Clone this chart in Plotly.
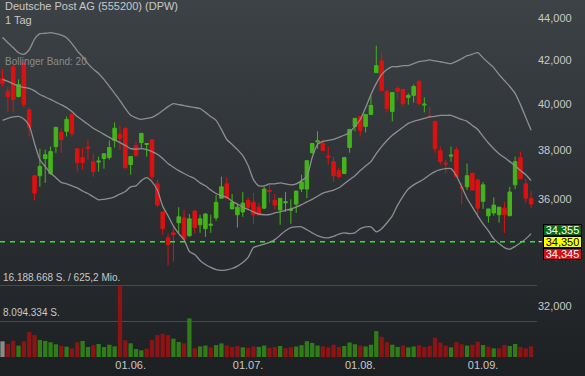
import base64
import math
import pandas as pd
import plotly.graph_objects as go

# ---------------- data ----------------
dates = [d.strftime("%Y-%m-%d") for d in pd.bdate_range("2022-04-28", periods=100)]

open_ = [41.14, 40.56, 41.68, 40.33, 41.86, 39.75, 36.95, 36.95, 37.66, 37.04,
         38.16, 38.76, 38.81, 39.54, 38.07, 37.70, 38.14, 37.53, 37.51, 37.66,
         37.70, 38.42, 38.68, 38.94, 37.41, 38.21, 38.33, 38.25, 38.46, 36.62,
         35.50, 34.50, 34.69, 35.08, 35.27, 34.58, 35.54, 35.00, 34.85, 34.98,
         35.27, 36.04, 36.62, 35.62, 35.39, 35.50, 35.96, 35.88, 35.69, 35.65,
         36.35, 35.96, 35.58, 35.86, 35.56, 35.81, 36.41, 36.41, 37.90, 38.36,
         38.29, 37.76, 37.53, 37.16, 37.04, 38.12, 39.02, 39.45, 39.02, 39.54,
         41.41, 41.95, 40.56, 39.67, 40.69, 40.65, 40.29, 40.38, 41.01, 39.95,
         39.47, 39.24, 37.99, 37.47, 37.76, 38.03, 36.48, 36.50, 37.04, 36.79,
         35.92, 35.35, 35.46, 35.39, 35.65, 35.35, 36.58, 37.70, 36.62, 36.04]
high_ = [41.59, 40.74, 41.77, 41.10, 41.91, 39.84, 36.95, 38.07, 38.03, 38.16,
         38.98, 38.94, 39.45, 39.67, 38.07, 38.12, 38.46, 37.86, 37.74, 37.86,
         38.42, 39.19, 39.06, 38.98, 37.74, 38.38, 38.72, 38.29, 38.46, 36.79,
         35.50, 34.66, 34.92, 35.69, 35.58, 35.42, 35.54, 35.39, 35.46, 35.39,
         36.17, 36.91, 36.87, 36.21, 35.81, 36.29, 36.08, 36.25, 35.85, 36.50,
         36.58, 36.21, 36.04, 36.29, 36.00, 36.33, 36.99, 37.57, 38.29, 38.81,
         38.46, 38.16, 37.74, 37.28, 37.70, 38.89, 39.37, 39.45, 39.54, 40.38,
         42.66, 42.38, 40.65, 40.51, 40.78, 40.65, 40.47, 40.87, 41.10, 40.29,
         39.88, 39.24, 38.16, 37.61, 38.16, 38.16, 36.66, 37.45, 37.08, 36.79,
         36.70, 35.62, 36.08, 35.69, 35.88, 36.50, 37.74, 37.95, 36.83, 36.33]
low_ = [40.78, 39.67, 39.63, 40.29, 39.84, 38.59, 35.96, 36.50, 36.66, 36.99,
        37.90, 37.90, 38.59, 38.59, 37.12, 37.20, 37.61, 36.91, 37.12, 37.24,
        37.61, 38.12, 38.03, 37.24, 36.99, 37.74, 38.07, 37.74, 36.75, 35.69,
        34.62, 33.46, 33.61, 34.69, 34.31, 34.54, 34.66, 34.69, 34.54, 34.69,
        35.16, 36.04, 36.04, 35.62, 34.89, 35.31, 35.62, 35.04, 35.35, 35.62,
        35.85, 35.58, 35.00, 35.50, 35.04, 35.46, 36.29, 36.04, 37.86, 38.07,
        37.99, 37.41, 36.70, 36.83, 37.04, 37.90, 38.81, 38.59, 38.76, 39.54,
        41.41, 40.60, 39.63, 39.24, 40.20, 39.88, 39.97, 40.06, 39.93, 39.63,
        39.37, 37.90, 37.41, 37.04, 37.53, 36.91, 35.81, 36.37, 36.37, 35.31,
        35.62, 35.08, 35.35, 35.08, 34.69, 35.35, 36.41, 36.83, 35.85, 35.65]
close_ = [40.92, 40.33, 40.20, 40.87, 39.97, 38.98, 36.25, 37.33, 37.82, 37.95,
          38.98, 38.46, 39.32, 38.72, 37.49, 37.49, 38.10, 37.12, 37.55, 37.86,
          38.12, 38.94, 38.51, 37.28, 37.74, 37.78, 38.72, 38.29, 36.91, 35.77,
          34.85, 34.24, 34.62, 35.31, 34.46, 35.23, 34.89, 35.23, 35.42, 35.02,
          35.88, 36.50, 36.04, 35.88, 35.69, 35.85, 35.69, 35.39, 35.39, 36.41,
          36.31, 35.77, 36.04, 35.90, 35.60, 36.33, 36.70, 37.57, 38.29, 38.40,
          37.99, 37.72, 36.95, 36.91, 37.70, 38.89, 39.37, 38.85, 39.54, 39.93,
          41.73, 40.60, 39.80, 40.51, 40.56, 40.02, 40.38, 40.78, 40.02, 39.99,
          39.43, 38.07, 37.53, 37.43, 37.80, 36.91, 36.44, 36.95, 36.37, 35.65,
          36.58, 35.62, 35.77, 35.69, 35.39, 36.29, 37.53, 36.83, 36.04, 35.81]

bb_upper = [43.06, 42.80, 42.57, 42.33, 42.26, 42.47, 42.97, 43.23, 43.25, 43.28,
            43.23, 43.16, 43.04, 42.76, 42.42, 42.14, 41.82, 41.57, 41.37, 41.10,
            40.78, 40.47, 40.15, 39.80, 39.50, 39.39, 39.32, 39.37, 39.41, 39.54,
            39.71, 39.88, 40.01, 39.97, 39.93, 39.88, 39.84, 39.80, 39.63, 39.45,
            39.28, 38.89, 38.46, 38.25, 38.03, 37.78, 37.37, 36.79, 36.54, 36.54,
            36.62, 36.62, 36.66, 36.62, 36.58, 36.62, 36.75, 36.91, 37.70, 38.25,
            38.38, 38.42, 38.46, 38.55, 38.64, 38.76, 39.02, 39.32, 39.84, 40.42,
            40.92, 41.32, 41.55, 41.68, 41.68, 41.73, 41.73, 41.82, 41.91, 41.95,
            42.00, 41.95, 41.91, 41.86, 41.82, 41.93, 42.05, 42.19, 42.26, 42.33,
            42.09, 41.86, 41.64, 41.32, 41.05, 40.78, 40.47, 39.97, 39.41, 38.85]
bb_middle = [41.10, 41.01, 40.90, 40.80, 40.74, 40.69, 40.58, 40.42, 40.31, 40.20,
             40.08, 39.97, 39.84, 39.67, 39.45, 39.28, 39.11, 38.94, 38.81, 38.68,
             38.55, 38.44, 38.33, 38.21, 38.07, 38.05, 38.07, 38.03, 37.95, 37.84,
             37.66, 37.45, 37.30, 37.16, 37.04, 36.93, 36.83, 36.66, 36.54, 36.37,
             36.23, 36.14, 36.08, 35.92, 35.81, 35.69, 35.60, 35.50, 35.42, 35.39,
             35.40, 35.46, 35.50, 35.56, 35.62, 35.69, 35.79, 35.90, 36.00, 36.12,
             36.25, 36.31, 36.37, 36.46, 36.62, 36.79, 36.95, 37.16, 37.35, 37.53,
             37.86, 38.16, 38.42, 38.64, 38.81, 38.98, 39.15, 39.24, 39.30, 39.37,
             39.43, 39.45, 39.50, 39.50, 39.50, 39.41, 39.32, 39.24, 39.06, 38.89,
             38.59, 38.31, 38.07, 37.86, 37.70, 37.53, 37.37, 37.16, 36.99, 36.75]
bb_lower = [39.28, 39.37, 39.43, 39.45, 39.34, 39.06, 38.29, 37.61, 37.33, 37.06,
            36.87, 36.68, 36.62, 36.54, 36.46, 36.33, 36.23, 36.10, 35.98, 36.00,
            36.04, 36.10, 36.21, 36.31, 36.50, 36.54, 36.75, 36.87, 36.70, 36.37,
            35.73, 35.35, 34.96, 34.66, 34.43, 33.98, 33.87, 33.65, 33.50, 33.39,
            33.31, 33.28, 33.30, 33.35, 33.44, 33.57, 33.76, 34.13, 34.20, 34.26,
            34.33, 34.43, 34.60, 34.77, 34.89, 34.92, 34.92, 34.81, 34.69, 34.58,
            34.52, 34.50, 34.56, 34.64, 34.69, 34.66, 34.69, 34.85, 34.92, 34.92,
            34.73, 34.85, 35.08, 35.35, 35.77, 36.12, 36.41, 36.58, 36.70, 36.83,
            36.99, 37.12, 37.20, 37.24, 37.24, 36.95, 36.50, 36.04, 35.69, 35.35,
            35.04, 34.77, 34.46, 34.28, 34.13, 34.07, 34.17, 34.31, 34.46, 34.66]

# millions of shares
volume = [3.57, 2.96, 3.70, 2.58, 3.57, 5.70, 5.00, 3.87, 3.65, 3.35,
          2.90, 2.50, 2.35, 1.98, 3.35, 3.65, 2.28, 2.66, 2.96, 2.28,
          2.80, 2.43, 16.19, 3.80, 3.12, 1.82, 1.52, 1.90, 3.87, 5.00,
          5.30, 5.00, 4.17, 3.42, 3.12, 8.80, 1.98, 2.40, 2.60, 2.20,
          2.70, 3.10, 2.60, 2.30, 2.50, 2.20, 2.10, 2.40, 2.30, 2.60,
          2.10, 2.30, 2.50, 2.00, 2.20, 2.40, 2.70, 3.60, 3.20, 2.60,
          2.40, 2.20, 2.80, 2.30, 2.50, 3.30, 2.90, 2.60, 2.40, 2.80,
          5.90, 4.60, 3.40, 2.80, 2.30, 2.60, 2.20, 2.40, 2.70, 2.30,
          2.50, 4.40, 3.30, 2.60, 2.20, 3.40, 2.90, 2.60, 2.80, 3.50,
          2.74, 2.36, 1.98, 1.98, 2.74, 2.51, 2.96, 2.28, 1.98, 2.43]

vol_max = 16188668
vol_half = 8094334
turnover_text = "625,2 Mio."
bid_price, last_price, ask_price = 34.355, 34.350, 34.345

price_ticks = [32, 36, 38, 40, 42, 44]
month_ticks = ["2022-06-01", "2022-07-01", "2022-08-01", "2022-09-01"]
month_labels = ["01.06.", "01.07.", "01.08.", "01.09."]

# ---------------- style ----------------
W, H = 585, 376
ML, MR, MT, MB = 0, 48, 0, 19
GREEN = "#43b51b"
RED = "#dd1111"
VGREEN = "#2f7d16"
VRED = "#8c1414"
VGREY = "#8a8a8a"
BAND = "#8e8e8e"
TXT = "#c8c8c8"

vol_colors = []
for i, c in enumerate(close_):
    if i == 0:
        vol_colors.append(VGREY)
    else:
        vol_colors.append(VGREEN if c >= close_[i - 1] else VRED)

fig = go.Figure()

fig.add_trace(go.Bar(x=dates, y=[v * 1e6 for v in volume], marker_color=vol_colors,
                     marker_line_width=0, width=0.8, yaxis="y2", hoverinfo="skip"))

for arr in (bb_upper, bb_middle, bb_lower):
    fig.add_trace(go.Scatter(x=dates, y=arr, mode="lines",
                             line=dict(color=BAND, width=1.3, shape="spline", smoothing=0.6),
                             hoverinfo="skip"))

fig.add_trace(go.Candlestick(
    x=dates, open=open_, high=high_, low=low_, close=close_,
    increasing=dict(line=dict(color=GREEN, width=1), fillcolor=GREEN),
    decreasing=dict(line=dict(color=RED, width=1), fillcolor=RED),
    whiskerwidth=0, hoverinfo="skip"))

pw = W - ML - MR
ph = H - MT - MB
svg = (f'<svg xmlns="http://www.w3.org/2000/svg" width="{W}" height="{H}">'
       '<defs><linearGradient id="g" x1="0" y1="0" x2="0" y2="1">'
       '<stop offset="0" stop-color="#3d4246"/><stop offset="1" stop-color="#1d2023"/>'
       '</linearGradient></defs>'
       f'<rect width="{W}" height="{H}" fill="url(#g)"/></svg>')
src = "data:image/svg+xml;base64," + base64.b64encode(svg.encode()).decode()

fig.update_layout(
    width=W, height=H,
    margin=dict(l=ML, r=MR, t=MT, b=MB),
    paper_bgcolor="#2c3034", plot_bgcolor="rgba(0,0,0,0)",
    separators=",.",
    showlegend=False,
    boxgap=0.06,
    font=dict(family="Liberation Sans, Arial, sans-serif", size=11, color=TXT),
    images=[dict(source=src, xref="paper", yref="paper", x=0, y=1,
                 sizex=W / pw, sizey=H / ph, sizing="stretch", layer="below")],
    xaxis=dict(type="category", range=[-0.47, 100.1], rangeslider=dict(visible=False),
               showgrid=False, zeroline=False, showline=False, ticks="",
               tickmode="array", tickvals=month_ticks, ticktext=month_labels,
               tickfont=dict(size=11, color=TXT)),
    yaxis=dict(type="log", side="right", range=[1.480625, 1.651947],
               tickmode="array", tickvals=price_ticks, tickformat=".3f",
               showgrid=False, zeroline=False, showline=False, ticks="",
               tickfont=dict(size=11, color=TXT)),
    yaxis2=dict(overlaying="y", range=[0, 81.3e6], showticklabels=False,
                tickmode="array", tickvals=[vol_half, vol_max],
                showgrid=True, gridcolor="#464a4e", gridwidth=1, zeroline=False),
)

fig.add_shape(type="line", xref="paper", yref="y", x0=0, x1=0.997,
              y0=last_price, y1=last_price,
              line=dict(color="#22ee22", width=1.3, dash="5px,5px"))
fig.add_shape(type="line", xref="paper", yref="y", x0=1.003, x1=1.009,
              y0=last_price, y1=last_price,
              line=dict(color="white", width=1))

fig.add_annotation(xref="paper", yref="paper", x=0.005, y=1, yshift=2,
                   xanchor="left", yanchor="top", showarrow=False, align="left",
                   text="Deutsche Post AG (555200) (DPW)<br>1 Tag",
                   font=dict(size=11, color=TXT))
fig.add_annotation(xref="paper", yref="paper", x=0.005, y=1 - 61 / ph,
                   xanchor="left", yanchor="middle", showarrow=False,
                   text="Bollinger Band: 20", font=dict(size=10, color="#8a8a8a"))


def de(n):
    return f"{n:,}".replace(",", ".")


fig.add_annotation(xref="paper", yref="y2", x=0.002, y=vol_max, yshift=1,
                   xanchor="left", yanchor="bottom", showarrow=False,
                   text=f"{de(vol_max)} S. / {turnover_text}",
                   font=dict(size=10, color=TXT))
fig.add_annotation(xref="paper", yref="y2", x=0.002, y=vol_half, yshift=1,
                   xanchor="left", yanchor="bottom", showarrow=False,
                   text=f"{de(vol_half)} S.", font=dict(size=10, color=TXT))

for val, bg, fg, shift in ((bid_price, "#0c6a16", "white", 12),
                           (last_price, "#ffff00", "black", 0),
                           (ask_price, "#d0101c", "white", -12)):
    fig.add_annotation(xref="paper", yref="y", x=1.011, y=math.log10(last_price), yshift=shift,
                       xanchor="left", yanchor="middle", showarrow=False,
                       text=f"{val:.3f}".replace(".", ","), bgcolor=bg,
                       bordercolor="black", borderwidth=1, borderpad=0, height=10,
                       width=37, font=dict(size=11, color=fg))

fig.write_html("out.html", config={"displayModeBar": False},
               post_script="document.body.style.margin='0';")
